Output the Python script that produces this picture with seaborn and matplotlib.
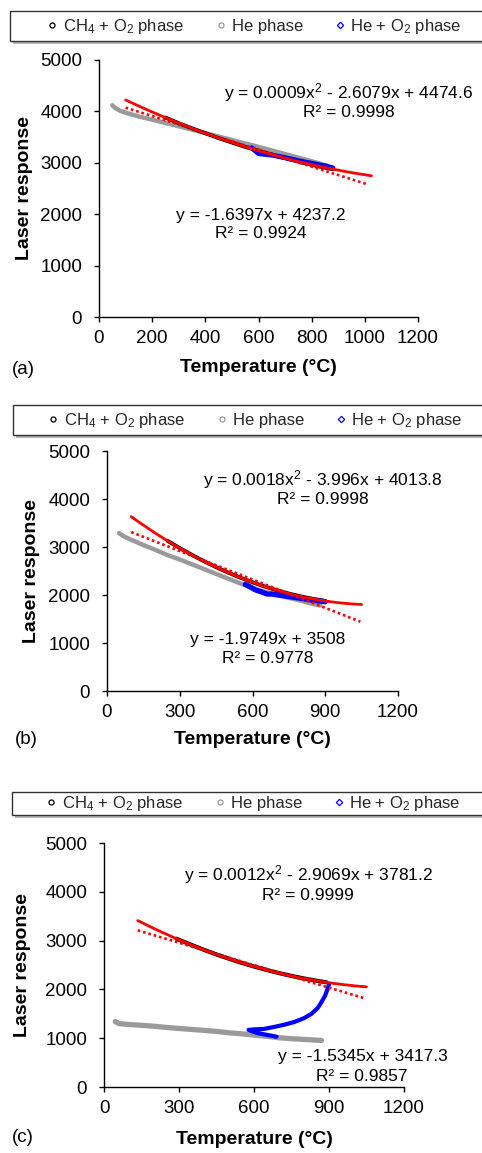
import numpy as np
import pandas as pd
import matplotlib
matplotlib.use("Agg")
import matplotlib.pyplot as plt
import seaborn as sns
from matplotlib.lines import Line2D
from matplotlib.patches import Rectangle

# ---------------- data ----------------
# Panel (a)
a_ch4_T = [250, 300, 350, 400, 450, 500, 550, 600, 650, 700, 750, 800, 850, 880]
a_ch4_R = [3880, 3770, 3670, 3575, 3480, 3395, 3310, 3235, 3160, 3090, 3025, 2960, 2905, 2875]
a_he_T = [50, 60, 80, 100, 150, 200, 250, 300, 350, 400, 450, 500, 550, 600, 650, 700, 750, 800, 860]
a_he_R = [4120, 4070, 4010, 3975, 3900, 3840, 3775, 3710, 3645, 3580, 3510, 3445, 3375, 3310, 3240, 3170, 3100, 3030, 2940]
a_heo2_T = [575, 600, 650, 700, 750, 800, 850, 880]
a_heo2_R = [3290, 3180, 3150, 3100, 3040, 2990, 2940, 2900]

# Panel (b)
b_ch4_T = [250, 300, 350, 400, 450, 500, 550, 600, 650, 700, 750, 800, 850, 900]
b_ch4_R = [3127, 2977, 2836, 2703, 2580, 2466, 2361, 2264, 2177, 2099, 2029, 1969, 1918, 1875]
b_he_T = [50, 70, 100, 150, 200, 250, 300, 350, 400, 450, 500, 550, 600, 650, 700, 750, 800, 850, 880]
b_he_R = [3290, 3220, 3150, 3040, 2940, 2830, 2740, 2640, 2540, 2440, 2340, 2240, 2150, 2070, 2000, 1940, 1880, 1810, 1780]
b_heo2_T = [570, 590, 610, 640, 660, 680, 720, 760, 800, 850, 900]
b_heo2_R = [2220, 2170, 2110, 2060, 2020, 2020, 1990, 1960, 1930, 1890, 1860]

# Panel (c)
c_ch4_T = [290, 300, 350, 400, 450, 500, 550, 600, 650, 700, 750, 800, 850, 890]
c_ch4_R = [3039, 3017, 2911, 2810, 2716, 2628, 2545, 2469, 2399, 2334, 2276, 2224, 2177, 2145]
c_he_T = [45, 60, 100, 150, 200, 250, 300, 350, 400, 450, 500, 550, 600, 650, 700, 750, 800, 850, 870]
c_he_R = [1340, 1300, 1280, 1265, 1245, 1220, 1200, 1180, 1160, 1140, 1110, 1090, 1065, 1040, 1010, 990, 975, 960, 955]
c_heo2_T = [690, 650, 610, 578, 600, 640, 680, 720, 760, 800, 830, 855, 870, 885, 895, 900]
c_heo2_R = [1030, 1070, 1110, 1170, 1180, 1190, 1230, 1275, 1330, 1410, 1500, 1620, 1740, 1880, 2020, 2100]

# trendlines (Excel equations shown on chart) and their x ranges
a_poly = [0.0009, -2.6079, 4474.6]; a_poly_x = [100, 1025]
a_lin = [-1.6397, 4237.2];          a_lin_x = [100, 1010]
b_poly = [0.0018, -3.996, 4013.8];  b_poly_x = [100, 1050]
b_lin = [-1.9749, 3508];            b_lin_x = [100, 1045]
c_poly = [0.0012, -2.9069, 3781.2]; c_poly_x = [135, 1050]
c_lin = [-1.5345, 3417.3];          c_lin_x = [135, 1045]

a_eq = ["y = 0.0009x$^2$ - 2.6079x + 4474.6", "R² = 0.9998", "y = -1.6397x + 4237.2", "R² = 0.9924"]
b_eq = ["y = 0.0018x$^2$ - 3.996x + 4013.8", "R² = 0.9998", "y = -1.9749x + 3508", "R² = 0.9778"]
c_eq = ["y = 0.0012x$^2$ - 2.9069x + 3781.2", "R² = 0.9999", "y = -1.5345x + 3417.3", "R² = 0.9857"]

phases = ["CH$_4$ + O$_2$ phase", "He phase", "He + O$_2$ phase"]
a_xticks = [0, 200, 400, 600, 800, 1000, 1200]
bc_xticks = [0, 300, 600, 900, 1200]
yticks = [0, 1000, 2000, 3000, 4000, 5000]
panel_labels = ["(a)", "(b)", "(c)"]
x_title = "Temperature (°C)"
y_title = "Laser response"

# ---------------- style ----------------
sns.set_theme(style="white")
plt.rcParams["font.family"] = ["Liberation Sans", "DejaVu Sans"]
plt.rcParams["mathtext.fontset"] = "custom"
plt.rcParams["mathtext.rm"] = "Liberation Sans"
plt.rcParams["mathtext.it"] = "Liberation Sans:italic"
plt.rcParams["mathtext.bf"] = "Liberation Sans:bold"
plt.rcParams["mathtext.default"] = "rm"

W, H = 482, 1153
fig = plt.figure(figsize=(W / 100, H / 100), dpi=100)

colors = {"ch4": "#000000", "he": "#9a9a9a", "heo2": "#0000ff", "fit": "#ff0000"}


def px_axes(l, r, t, b):
    return fig.add_axes([l / W, 1 - b / H, (r - l) / W, (b - t) / H])


def draw_panel(ax, series, poly, poly_x, lin, lin_x, xticks, eqs, eq_pos,
               ylab_x, xlab_y):
    for (T, R, key, lw) in series:
        df = pd.DataFrame({"T": T, "R": R})
        sns.lineplot(data=df, x="T", y="R", ax=ax, sort=False, estimator=None,
                     color=colors[key], linewidth=lw, solid_capstyle="round",
                     solid_joinstyle="round", zorder=2)
    xp = np.linspace(poly_x[0], poly_x[1], 200)
    sns.lineplot(x=xp, y=np.polyval(poly, xp), ax=ax, color=colors["fit"],
                 linewidth=2.0, zorder=4)
    xl = np.linspace(lin_x[0], lin_x[1], 50)
    sns.lineplot(x=xl, y=np.polyval(lin, xl), ax=ax, color=colors["fit"],
                 linewidth=1.9, linestyle=(0, (1, 1.1)), zorder=4)
    ax.set_xlim(0, 1200)
    ax.set_ylim(0, 5000)
    ax.set_xticks(xticks)
    ax.set_yticks(yticks)
    ax.tick_params(axis="both", which="major", direction="out", length=3.6,
                   width=1.0, color="black", labelsize=13.5, labelcolor="black")
    ax.tick_params(axis="y", pad=8.5, left=True)
    ax.tick_params(axis="x", pad=6, bottom=True)
    for s in ["top", "right"]:
        ax.spines[s].set_visible(False)
    for s in ["left", "bottom"]:
        ax.spines[s].set_color("black")
        ax.spines[s].set_linewidth(1.0)
    ax.set_xlabel(x_title, fontsize=14, fontweight="bold", color="black")
    ax.set_ylabel(y_title, fontsize=14, fontweight="bold", color="black")
    ax.xaxis.set_label_coords(0.5, xlab_y)
    ax.yaxis.set_label_coords(ylab_x, 0.5)
    ax.xaxis.label.set_verticalalignment("center")
    ax.yaxis.label.set_verticalalignment("center")
    for txt, (x, y) in zip(eqs, eq_pos):
        ax.text(x, y, txt, ha="center", va="center", fontsize=12.5, color="black",
                zorder=5)


def draw_legend(top, bottom, left, handle_x):
    y0 = 1 - bottom / H
    h = (bottom - top) / H
    shadow = Rectangle((left / W + 3 / W, y0 - 3 / H), (520 - left) / W, h,
                       transform=fig.transFigure, facecolor="#b5b5b5",
                       edgecolor="none", zorder=0)
    box = Rectangle((left / W, y0), (520 - left) / W, h,
                    transform=fig.transFigure, facecolor="white",
                    edgecolor="#333333", linewidth=1.0, zorder=1)
    fig.patches.extend([shadow, box])
    handles = [
        Line2D([], [], marker="o", ls="", mfc="none", mec=colors["ch4"], ms=3.6, mew=0.9),
        Line2D([], [], marker="o", ls="", mfc="none", mec=colors["he"], ms=3.6, mew=0.9),
        Line2D([], [], marker="D", ls="", mfc="none", mec=colors["heo2"], ms=3.2, mew=0.9),
    ]
    leg = fig.legend(handles, phases, ncol=3, loc="center left",
                     bbox_to_anchor=(handle_x / W, y0 + h / 2), frameon=False,
                     fontsize=12, handlelength=0.6, handletextpad=0.35,
                     columnspacing=1.9, borderaxespad=0, borderpad=0)
    leg.set_zorder(3)
    return leg


# panel (a)
draw_legend(11, 41, 10, 47)
ax_a = px_axes(99, 418, 60, 317)
draw_panel(ax_a,
           [(a_he_T, a_he_R, "he", 3.2), (a_ch4_T, a_ch4_R, "ch4", 2.8),
            (a_heo2_T, a_heo2_R, "heo2", 3.6)],
           a_poly, a_poly_x, a_lin, a_lin_x, a_xticks, a_eq,
           [(940, 4358), (940, 3969), (609, 1984), (609, 1615)],
           -0.232, -0.195)

# panel (b)
draw_legend(405, 435, 13, 48)
ax_b = px_axes(107, 398, 451, 691)
draw_panel(ax_b,
           [(b_he_T, b_he_R, "he", 3.2), (b_ch4_T, b_ch4_R, "ch4", 2.8),
            (b_heo2_T, b_heo2_R, "heo2", 3.8)],
           b_poly, b_poly_x, b_lin, b_lin_x, bc_xticks, b_eq,
           [(891, 4396), (891, 4000), (664, 1083), (664, 667)],
           -0.258, -0.204)

# panel (c)
draw_legend(792, 815, 12, 46)
ax_c = px_axes(104, 404, 843, 1087)
draw_panel(ax_c,
           [(c_he_T, c_he_R, "he", 3.8), (c_ch4_T, c_ch4_R, "ch4", 3.0),
            (c_heo2_T, c_heo2_R, "heo2", 3.0)],
           c_poly, c_poly_x, c_lin, c_lin_x, bc_xticks, c_eq,
           [(816, 4344), (816, 3934), (1036, 635), (1032, 225)],
           -0.272, -0.217)

for lab, (x, y) in zip(panel_labels, [(12, 370), (15, 740), (12, 1137)]):
    fig.text(x / W, 1 - y / H, lab, ha="left", va="center", fontsize=13.5,
             color="black")

fig.savefig("out.png", dpi=100, facecolor="white")
